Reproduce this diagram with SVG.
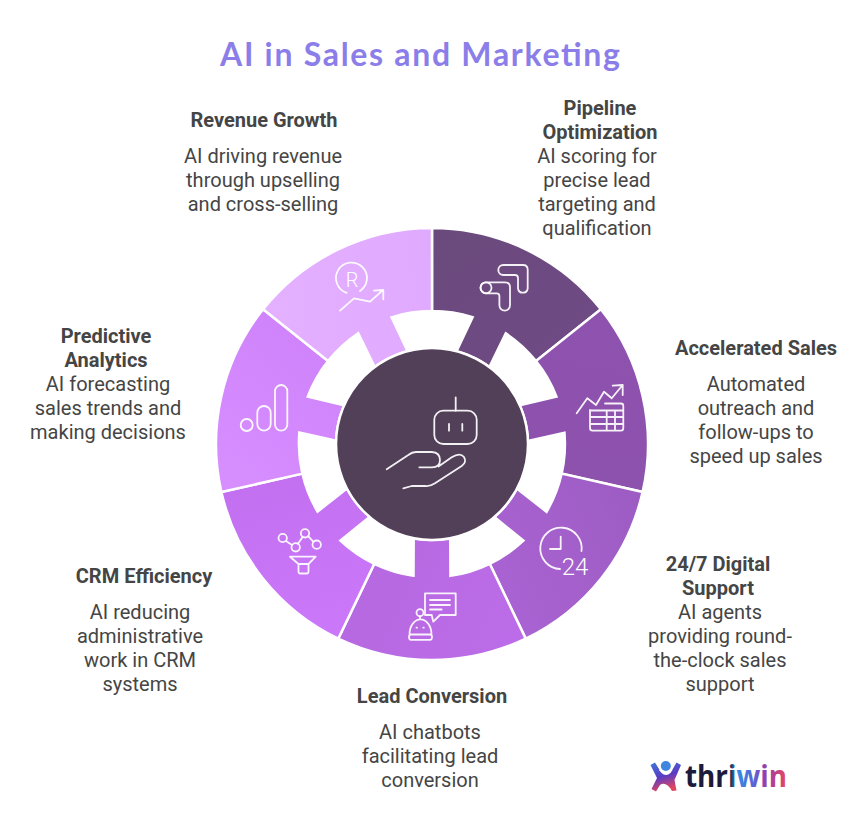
<svg xmlns="http://www.w3.org/2000/svg" width="864" height="823" viewBox="0 0 864 823">
<style>
text{font-family:Roboto,"Liberation Sans",sans-serif;font-size:20px;fill:#454545;text-anchor:middle}
.h{font-weight:700}
.ic{fill:none;stroke:#fff;stroke-opacity:.92;stroke-width:1.8;stroke-linecap:round;stroke-linejoin:round}
.ig{font-weight:300;fill:#fff;stroke:none}
.wedge{stroke:#fff;stroke-width:2.5}
</style>
<defs>
<path id="w" d="M432 228A216 216 0 0 1 600.9 309.3L536 361.1A133 133 0 0 0 505.8 333.4L489.4 367A95 95 0 0 0 456.4 351.4L472.6 317.2A133 133 0 0 0 432 311Z"/>
<linearGradient id="g1" x1="0" y1="0" x2="1" y2="1"><stop offset="0" stop-color="#6A4A7C"/><stop offset="1" stop-color="#704A86"/></linearGradient>
<linearGradient id="g2" x1="0" y1="0" x2="1" y2="1"><stop offset="0" stop-color="#8E52AF"/><stop offset="1" stop-color="#8D52AC"/></linearGradient>
<linearGradient id="g3" x1="0" y1="0" x2="1" y2="1"><stop offset="0" stop-color="#9C5CC2"/><stop offset="1" stop-color="#AD64D6"/></linearGradient>
<linearGradient id="g4" x1="0" y1="0" x2="1" y2="1"><stop offset="0" stop-color="#BC6CE8"/><stop offset="1" stop-color="#B568DF"/></linearGradient>
<linearGradient id="g5" x1="0" y1="0" x2="1" y2="1"><stop offset="0" stop-color="#CB78FA"/><stop offset="1" stop-color="#C06EEE"/></linearGradient>
<linearGradient id="g6" x1="0" y1="0" x2="1" y2="1"><stop offset="0" stop-color="#D78FFF"/><stop offset="1" stop-color="#CE80FA"/></linearGradient>
<linearGradient id="g7" x1="0" y1="0" x2="1" y2="1"><stop offset="0" stop-color="#E4B0FF"/><stop offset="1" stop-color="#DFA8FF"/></linearGradient>
<linearGradient id="lg" gradientUnits="userSpaceOnUse" x1="685" y1="0" x2="787" y2="0"><stop offset="0" stop-color="#1C1B3C"/><stop offset=".44" stop-color="#1C1B3C"/><stop offset=".5" stop-color="#2E90E6"/><stop offset=".68" stop-color="#5C62D2"/><stop offset=".8" stop-color="#9A3CA8"/><stop offset="1" stop-color="#E8485E"/></linearGradient>
<linearGradient id="pg" x1="0" y1="0" x2="0.3" y2="1"><stop offset="0" stop-color="#3E78D8"/><stop offset=".55" stop-color="#5A3BC4"/><stop offset="1" stop-color="#E2465E"/></linearGradient>
</defs>
<rect width="864" height="823" fill="#fff"/>
<text id="title" x="420" y="66" textLength="400" lengthAdjust="spacing" style="font-family:Lato,'Noto Sans',sans-serif;font-size:32px;font-weight:700;fill:#8B7EE8">AI in Sales and Marketing</text>

<g id="node-pipeline">
<use href="#w" class="wedge" fill="url(#g1)"/>
<g class="ic"><path d="M503.3 265H523Q527.7 265 527.7 269.7V288.5A4.9 4.9 0 0 1 518 288.5V278Q518 275 515 275H503.3A5 5 0 0 1 503.3 265Z"/><path d="M486 282.3H505Q510 282.3 510 287.3V305.3A5.3 5.3 0 0 1 499.4 305.3V296Q499.4 293.3 496.7 293.3H486A5.5 5.5 0 0 1 486 282.3Z"/><circle cx="486" cy="287.8" r="5.5"/></g>
<text class="h" x="600" y="115">Pipeline</text><text class="h" x="600" y="139">Optimization</text>
<text x="597" y="163">AI scoring for</text><text x="597" y="187">precise lead</text><text x="597" y="211">targeting and</text><text x="597" y="235">qualification</text>
</g>

<g id="node-accelerated">
<use href="#w" class="wedge" fill="url(#g2)" transform="rotate(51.4286 432 444)"/>
<g class="ic"><path d="M576.7 413.3L587.3 398.3L596 405L604 391.7L611.7 398.3L622.7 385M612.7 385.7L622.7 385V395"/><path d="M605 403.5H621Q623.3 403.5 623.3 406V428Q623.3 430.7 621 430.7H592.5Q590 430.7 590 428V410M590 410.5H623.3M590 417H623.3M590 424H623.3M606.7 410.5V430.7M615 410.5V430.7"/></g>
<text class="h" x="756" y="355">Accelerated Sales</text>
<text x="756" y="391">Automated</text><text x="756" y="415">outreach and</text><text x="756" y="439">follow-ups to</text><text x="756" y="463">speed up sales</text>
</g>

<g id="node-support">
<use href="#w" class="wedge" fill="url(#g3)" transform="rotate(102.8571 432 444)"/>
<g class="ic"><path d="M560 569A20.7 20.7 0 1 1 581.5 551M560.7 536.7V549H550"/></g>
<text class="ig" x="575" y="575" style="font-size:24px;fill:#fff">24</text>
<text class="h" x="718" y="571">24/7 Digital</text><text class="h" x="718" y="595">Support</text>
<text x="720" y="619">AI agents</text><text x="720" y="643">providing round-</text><text x="720" y="667">the-clock sales</text><text x="720" y="691">support</text>
</g>

<g id="node-lead">
<use href="#w" class="wedge" fill="url(#g4)" transform="rotate(154.2857 432 444)"/>
<g class="ic"><path d="M425 593.3H455.7V615H440L433.3 621.7L431.7 615H425ZM430 600H450M430 605H450M430 609.5H441.7"/><circle cx="420" cy="612.7" r="3.5"/><path d="M420 616.2V619.3M409.5 634.3A11 15 0 0 1 431.5 634.3ZM411 634.5H430Q432 634.5 432 637Q432 639.8 430 639.8H411Q409 639.8 409 637Q409 634.5 411 634.5ZM416.5 627.7H417M423.3 627.7H423.8"/></g>
<text class="h" x="432" y="703">Lead Conversion</text>
<text x="430" y="739">AI chatbots</text><text x="430" y="763">facilitating lead</text><text x="430" y="787">conversion</text>
</g>

<g id="node-crm">
<use href="#w" class="wedge" fill="url(#g5)" transform="rotate(205.7143 432 444)"/>
<g class="ic"><circle cx="282.7" cy="538" r="4.2"/><circle cx="295.7" cy="547.3" r="4.2"/><circle cx="305" cy="533.3" r="4.2"/><circle cx="316.7" cy="544.7" r="4.2"/><path d="M286 541L292 545M298 543.7L302.6 537M308.2 536.2L313.5 541.8M290 556.7H315.7L308.5 564V572Q308.5 573.5 307 573.5H300Q298.5 573.5 298.5 572V564ZM298.5 564H308.5"/></g>
<text class="h" x="144" y="583">CRM Efficiency</text>
<text x="140" y="619">AI reducing</text><text x="140" y="643">administrative</text><text x="140" y="667">work in CRM</text><text x="140" y="691">systems</text>
</g>

<g id="node-predictive">
<use href="#w" class="wedge" fill="url(#g6)" transform="rotate(257.1429 432 444)"/>
<g class="ic"><circle cx="246.7" cy="425" r="6"/><rect x="257.3" y="406" width="13.4" height="24.7" rx="6.7"/><rect x="275" y="385" width="12.3" height="45.7" rx="6.1"/></g>
<text class="h" x="106" y="343">Predictive</text><text class="h" x="106" y="367">Analytics</text>
<text x="108" y="391">AI forecasting</text><text x="108" y="415">sales trends and</text><text x="108" y="439">making decisions</text>
</g>

<g id="node-revenue">
<use href="#w" class="wedge" fill="url(#g7)" transform="rotate(308.5714 432 444)"/>
<g class="ic"><path d="M346.7 292.8A15.5 15.5 0 1 1 360 291M340 310.7L354 298.3L370 301.7L383 290M374 290.7L383.3 290V299.3"/></g>
<text class="ig" x="352" y="287" style="font-size:20px;fill:#fff">R</text>
<text class="h" x="264" y="127">Revenue Growth</text>
<text x="263" y="163">AI driving revenue</text><text x="263" y="187">through upselling</text><text x="263" y="211">and cross-selling</text>
</g>

<g id="node-center">
<circle cx="432" cy="444" r="96" fill="#523F58" stroke="#fff" stroke-width="2.5"/>
<g class="ic"><rect x="434.3" y="410.7" width="42.4" height="33.3" rx="9"/><path d="M455.7 397.3V410.7M449 424V430.7M462.3 424V430.7"/><path d="M386.7 469.3L408.3 455Q412 452 416 452H431.7Q440 452.5 440 460Q440 467.3 432 467.3H419.3M438.5 466.5L451.7 457.3Q460 452 464 457Q467 462 461.7 466L435 483.3Q430 486.7 425 486H411.7L403.3 488.3"/></g>
</g>

<g id="logo">
<path d="M650.5 765L655 762.5L661.5 773Q666 777 670.5 773L676.5 762.5L681 765L674.5 780L676.5 790.5L672 791Q666 781 660 785L656 791.5L651.5 789L657 778Z" fill="url(#pg)"/>
<path d="M659.5 770Q665.8 775.5 672 770" fill="none" stroke="#fff" stroke-width="1.5"/>
<circle cx="665.8" cy="766" r="5" fill="#3E86E0"/>
<text x="736" y="787" textLength="102" lengthAdjust="spacingAndGlyphs" style="font-family:'Open Sans',sans-serif;font-size:31px;font-weight:700;fill:url(#lg)">thriwin</text>
</g>
</svg>
